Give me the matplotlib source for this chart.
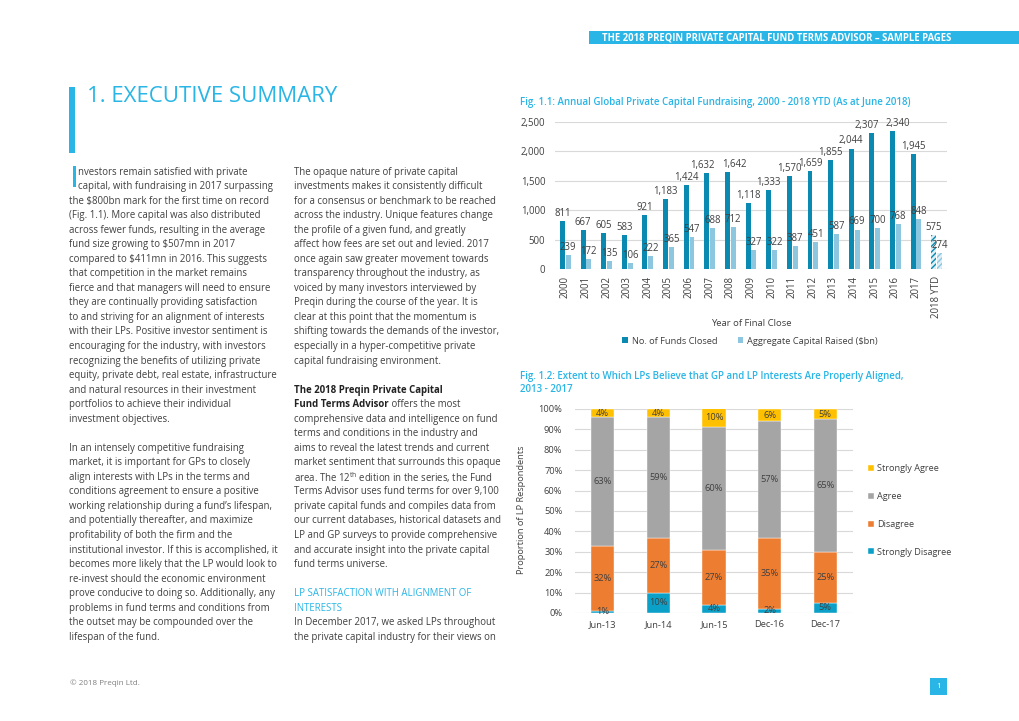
import matplotlib
matplotlib.use("Agg")
import matplotlib.pyplot as plt
from matplotlib.patches import Rectangle

plt.rcParams['font.family'] = ['Open Sans', 'DejaVu Sans']
plt.rcParams['mathtext.fontset'] = 'custom'
plt.rcParams['mathtext.rm'] = 'Open Sans'

# ---- data ----
years = ['2000', '2001', '2002', '2003', '2004', '2005', '2006', '2007', '2008', '2009',
         '2010', '2011', '2012', '2013', '2014', '2015', '2016', '2017', '2018 YTD']
funds_closed = [811, 667, 605, 583, 921, 1183, 1424, 1632, 1642, 1118,
                1333, 1570, 1659, 1855, 2044, 2307, 2340, 1945, 575]
capital_raised = [239, 172, 135, 106, 222, 365, 547, 688, 712, 327,
                  322, 387, 451, 587, 669, 700, 768, 848, 274]

surveys = ['Jun-13', 'Jun-14', 'Jun-15', 'Dec-16', 'Dec-17']
strongly_disagree = [1, 10, 4, 2, 5]
disagree = [32, 27, 27, 35, 25]
agree = [63, 59, 60, 57, 65]
strongly_agree = [4, 4, 10, 6, 5]

left_col = [
    "nvestors remain satisfied with private",
    "capital, with fundraising in 2017 surpassing",
    "the $800bn mark for the first time on record",
    "(Fig. 1.1). More capital was also distributed",
    "across fewer funds, resulting in the average",
    "fund size growing to $507mn in 2017",
    "compared to $411mn in 2016. This suggests",
    "that competition in the market remains",
    "fierce and that managers will need to ensure",
    "they are continually providing satisfaction",
    "to and striving for an alignment of interests",
    "with their LPs. Positive investor sentiment is",
    "encouraging for the industry, with investors",
    "recognizing the benefits of utilizing private",
    "equity, private debt, real estate, infrastructure",
    "and natural resources in their investment",
    "portfolios to achieve their individual",
    "investment objectives.",
    "",
    "In an intensely competitive fundraising",
    "market, it is important for GPs to closely",
    "align interests with LPs in the terms and",
    "conditions agreement to ensure a positive",
    "working relationship during a fund\u2019s lifespan,",
    "and potentially thereafter, and maximize",
    "profitability of both the firm and the",
    "institutional investor. If this is accomplished, it",
    "becomes more likely that the LP would look to",
    "re-invest should the economic environment",
    "prove conducive to doing so. Additionally, any",
    "problems in fund terms and conditions from",
    "the outset may be compounded over the",
    "lifespan of the fund.",
]

right_col = [
    "The opaque nature of private capital",
    "investments makes it consistently difficult",
    "for a consensus or benchmark to be reached",
    "across the industry. Unique features change",
    "the profile of a given fund, and greatly",
    "affect how fees are set out and levied. 2017",
    "once again saw greater movement towards",
    "transparency throughout the industry, as",
    "voiced by many investors interviewed by",
    "Preqin during the course of the year. It is",
    "clear at this point that the momentum is",
    "shifting towards the demands of the investor,",
    "especially in a hyper-competitive private",
    "capital fundraising environment.",
    "",
    "The 2018 Preqin Private Capital",
    "Fund Terms Advisor",
    "comprehensive data and intelligence on fund",
    "terms and conditions in the industry and",
    "aims to reveal the latest trends and current",
    "market sentiment that surrounds this opaque",
    r"area. The 12$^{\mathrm{th}}$ edition in the series, the Fund",
    "Terms Advisor uses fund terms for over 9,100",
    "private capital funds and compiles data from",
    "our current databases, historical datasets and",
    "LP and GP surveys to provide comprehensive",
    "and accurate insight into the private capital",
    "fund terms universe.",
    "",
    "LP SATISFACTION WITH ALIGNMENT OF",
    "INTERESTS",
    "In December 2017, we asked LPs throughout",
    "the private capital industry for their views on",
]

BLUE = '#29B5E6'
TEXT = '#404040'
DARK = '#0A8AB0'
LIGHT = '#8CC6DF'
C_SA, C_A, C_D, C_SD = '#FFC000', '#A5A5A5', '#ED7D31', '#0AA0C8'

W, H = 1020, 721
fig = plt.figure(figsize=(W / 100, H / 100), dpi=100)

# page layer in pixel coordinates
page = fig.add_axes([0, 0, 1, 1])
page.set_xlim(0, W)
page.set_ylim(H, 0)
page.axis('off')

# header band
page.add_patch(Rectangle((589, 31), W - 589, 13, color=BLUE, lw=0))
page.text(602, 38, "THE 2018 PREQIN PRIVATE CAPITAL FUND TERMS ADVISOR \u2013 SAMPLE PAGES",
          color='white', fontsize=6.85, fontweight='bold', va='center')

# section title
page.add_patch(Rectangle((69, 87), 6, 66, color=BLUE, lw=0))
page.text(87, 96, "1. EXECUTIVE SUMMARY", color=BLUE, fontsize=16, va='center')

# body text
body_fs = 6.95
line_h = 14.54
y0 = 172
page.add_patch(Rectangle((73, 166), 3.5, 21, color=BLUE, lw=0))
for i, line in enumerate(left_col):
    x = 78 if i < 2 else 69
    page.text(x, y0 + i * line_h, line, color=TEXT, fontsize=body_fs, va='center')

for i, line in enumerate(right_col):
    y = y0 + i * line_h
    if line.startswith("The 2018 Preqin"):
        page.text(294, y, line, color='#222222', fontsize=body_fs, fontweight='bold', va='center')
    elif line == "Fund Terms Advisor":
        t = page.text(294, y, line, color='#222222', fontsize=body_fs, fontweight='bold', va='center')
        page.annotate(" offers the most", xy=(1, 0), xycoords=t, va='bottom', ha='left',
                      color=TEXT, fontsize=body_fs)
    elif line.startswith("LP SATISFACTION") or line == "INTERESTS":
        page.text(294, y, line, color=BLUE, fontsize=body_fs, va='center')
    else:
        page.text(294, y, line, color=TEXT, fontsize=body_fs, va='center')

# footer
page.text(70, 683, "\u00a9 2018 Preqin Ltd.", color='#808080', fontsize=5.8, va='center')
page.add_patch(Rectangle((930, 678), 17, 17, color=BLUE, lw=0))
page.text(938.5, 686.5, "1", color='white', fontsize=6, ha='center', va='center')

# ---- Fig 1.1 ----
page.text(520, 102, "Fig. 1.1: Annual Global Private Capital Fundraising, 2000 - 2018 YTD (As at June 2018)",
          color=BLUE, fontsize=7.0, fontweight='semibold', va='center')

ax1 = fig.add_axes([555 / W, 1 - 269 / H, 392 / W, 147.3 / H])
x = list(range(len(years)))
bw = 0.24
b1 = ax1.bar([i - 0.14 for i in x], funds_closed, width=bw, color=DARK, zorder=3,
             label='No. of Funds Closed')
b2 = ax1.bar([i + 0.14 for i in x], capital_raised, width=bw, color=LIGHT, zorder=3,
             label='Aggregate Capital Raised ($bn)')
# 2018 YTD is partial year -> hatched
for bar, c in ((b1[-1], DARK), (b2[-1], LIGHT)):
    bar.set_facecolor('#DDF0F8')
    bar.set_edgecolor(c)
    bar.set_hatch('//////')
    bar.set_linewidth(0)
# sideways nudges (points) for crowded labels
nudge = {7: -3, 8: 5, 15: -4, 16: 4}
for k, (bars, vals) in enumerate(((b1, funds_closed), (b2, capital_raised))):
    for j, (bar, v) in enumerate(zip(bars, vals)):
        dx = nudge.get(j, 0) if k == 0 else 0
        ax1.annotate(f"{v:,}", xy=(bar.get_x() + bar.get_width() / 2, v),
                     xytext=(dx, 1.5), textcoords='offset points', ha='center', va='bottom',
                     fontsize=6.9, color=TEXT, zorder=4)
ax1.set_xlim(-0.5, len(years) - 0.5)
ax1.set_ylim(0, 2500)
ax1.set_yticks(range(0, 2501, 500))
ax1.set_yticklabels([f"{v:,}" for v in range(0, 2501, 500)])
ax1.set_xticks(x)
ax1.set_xticklabels(years, rotation=90)
ax1.tick_params(length=0, labelsize=6.9, labelcolor=TEXT)
ax1.tick_params(axis='y', pad=7)
ax1.tick_params(axis='x', pad=5)
ax1.grid(axis='y', color='#D9D9D9', lw=0.8, zorder=0)
for s in ax1.spines.values():
    s.set_visible(False)
page.text(751, 323, "Year of Final Close", color=TEXT, fontsize=6.8, ha='center', va='center')
fig.legend(handles=[b1, b2], loc='center', bbox_to_anchor=(750 / W, 1 - 341 / H), ncol=2,
           frameon=False, fontsize=6.7, handlelength=0.6, handleheight=0.6, handletextpad=0.4,
           columnspacing=2.2, labelcolor=TEXT)

# ---- Fig 1.2 ----
page.text(520, 377, "Fig. 1.2: Extent to Which LPs Believe that GP and LP Interests Are Properly Aligned,",
          color=BLUE, fontsize=7.0, fontweight='semibold', va='center')
page.text(520, 390, "2013 - 2017", color=BLUE, fontsize=7.0, fontweight='semibold', va='center')

ax2 = fig.add_axes([575 / W, 1 - 613 / H, 278 / W, 204 / H])
pos = list(range(len(surveys)))
bottom = [0] * len(surveys)
handles = []
for vals, col, lab in ((strongly_disagree, C_SD, 'Strongly Disagree'), (disagree, C_D, 'Disagree'),
                       (agree, C_A, 'Agree'), (strongly_agree, C_SA, 'Strongly Agree')):
    bars = ax2.bar(pos, vals, bottom=bottom, width=0.42, color=col, label=lab, zorder=3,
                   edgecolor='white', linewidth=0.3)
    handles.append(bars)
    for p, b, v in zip(pos, bottom, vals):
        ax2.text(p, b + v / 2, f"{v}%", ha='center', va='center', fontsize=6.7, color=TEXT, zorder=4)
    bottom = [b + v for b, v in zip(bottom, vals)]
ax2.set_xlim(-0.5, len(surveys) - 0.5)
ax2.set_ylim(0, 100)
ax2.set_yticks(range(0, 101, 10))
ax2.set_yticklabels([f"{v}%" for v in range(0, 101, 10)])
ax2.set_xticks(pos)
ax2.set_xticklabels(surveys)
ax2.tick_params(length=0, labelsize=6.7, labelcolor=TEXT)
ax2.tick_params(axis='y', pad=9)
ax2.tick_params(axis='x', pad=5)
ax2.grid(axis='y', color='#D9D9D9', lw=0.8, zorder=0)
for s in ax2.spines.values():
    s.set_visible(False)
page.text(522, 510, "Proportion of LP Respondents", color=TEXT, fontsize=6.7, rotation=90,
          ha='center', va='center')
fig.legend(handles=handles[::-1], loc='upper left', bbox_to_anchor=(860 / W, 1 - 456 / H),
           frameon=False, fontsize=6.6, handlelength=0.6, handleheight=0.6, handletextpad=0.4,
           labelspacing=2.05, labelcolor=TEXT)

fig.savefig('out.png', dpi=100)
